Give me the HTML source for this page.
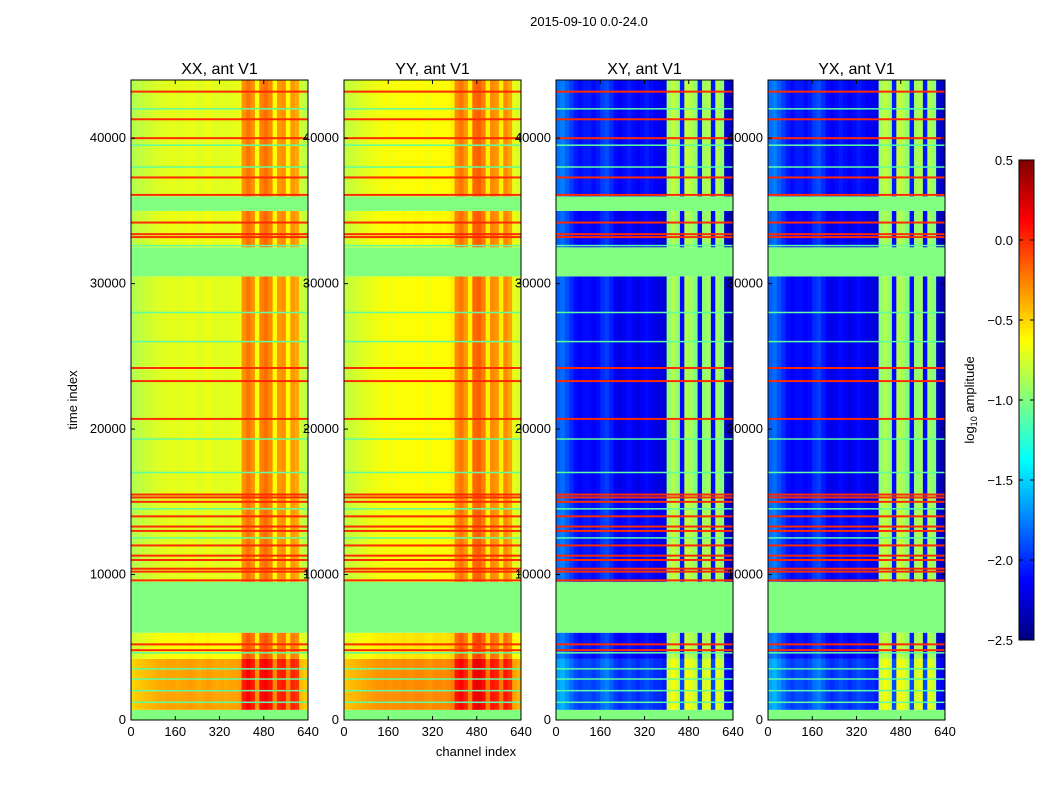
<!DOCTYPE html>
<html><head><meta charset="utf-8"><style>
body{margin:0;background:#fff;font-family:"Liberation Sans",sans-serif}
svg text{font-family:"Liberation Sans",sans-serif}
</style></head><body>
<svg id="c" width="1050" height="800" xmlns="http://www.w3.org/2000/svg">
<text x="589" y="26" font-size="13" text-anchor="middle">2015-09-10 0.0-24.0</text>
<text x="476" y="756" font-size="13" text-anchor="middle">channel index</text>
<text transform="translate(77,400) rotate(-90)" font-size="13" text-anchor="middle">time index</text>
<text transform="translate(974,400) rotate(-90)" font-size="13" text-anchor="middle">log<tspan font-size="9" dy="3">10</tspan><tspan dy="-3"> amplitude</tspan></text>
</svg>
<script>
// ---- data ----
const panelTitles = ["XX, ant V1","YY, ant V1","XY, ant V1","YX, ant V1"];
const xTicks = [0,160,320,480,640];
const yTicks = [0,10000,20000,30000,40000];
const cbTicks = [0.5,0.0,-0.5,-1.0,-1.5,-2.0,-2.5];
// channel bins of 16 channels (40 bins)
const xxCols = [-0.85,-0.82,-0.8,-0.78,-0.76,-0.74,-0.72,-0.72,-0.7,-0.7,-0.72,-0.7,-0.7,-0.68,-0.7,-0.72,-0.7,-0.68,-0.7,-0.72,-0.7,-0.72,-0.7,-0.7,-0.68,-0.3,-0.22,-0.3,-0.65,-0.25,-0.2,-0.28,-0.62,-0.32,-0.3,-0.62,-0.32,-0.38,-0.78,-0.82];
const yyCols = [-0.8,-0.78,-0.76,-0.74,-0.72,-0.7,-0.68,-0.66,-0.66,-0.64,-0.66,-0.64,-0.64,-0.62,-0.64,-0.64,-0.62,-0.62,-0.64,-0.66,-0.62,-0.62,-0.64,-0.62,-0.58,-0.28,-0.22,-0.32,-0.6,-0.18,-0.15,-0.25,-0.58,-0.28,-0.32,-0.58,-0.28,-0.36,-0.7,-0.74];
const xyCols = [-1.85,-1.8,-1.9,-2.0,-2.1,-2.15,-2.1,-2.1,-2.15,-2.1,-2.0,-1.95,-2.05,-2.15,-2.2,-2.15,-2.1,-2.15,-2.2,-2.15,-2.1,-2.15,-2.2,-2.2,-2.25,-0.95,-0.85,-0.95,-2.1,-0.85,-0.9,-1.0,-2.1,-0.95,-0.9,-2.1,-0.9,-1.0,-2.3,-2.35];
const yxCols = [-1.85,-1.8,-1.9,-2.0,-2.1,-2.15,-2.1,-2.1,-2.15,-2.1,-2.0,-1.95,-2.05,-2.15,-2.2,-2.15,-2.1,-2.15,-2.2,-2.15,-2.1,-2.15,-2.2,-2.2,-2.25,-0.95,-0.85,-0.95,-2.1,-0.85,-0.9,-1.0,-2.1,-0.95,-0.9,-2.1,-0.9,-1.0,-2.3,-2.35];
// time bands: start, end
const bandStart = [0,700,4200,6000,9500,15500,30500,32500,35000,36000];
const bandEnd   = [700,4200,6000,9500,15500,30500,32500,35000,36000,44000];
const bandFlag  = [1,0,0,1,0,0,1,0,1,0];
const parOffset = [0,0.35,0.08,0,0,0,0,0.02,0,0];
const crossOffset = [0,0.2,0.05,0,0.05,0,0,0,0,0.05];
const redLines = [4800,5200,9600,10200,10400,11000,11300,12000,13000,13300,14000,15000,15300,15500,20700,23300,24200,33200,33400,34200,36100,37300,40000,41300,43200];
const greenLines = [1200,2000,2800,3500,4600,12500,14500,17000,19300,26000,28000,32600,38000,39500,42000];
const lineValue = 0.0, flagValue = -1.0, greenValue = -1.1;

// ---- layout ----
const panelX = [131,344,556,768], pw = 177, plotTop = 80, plotBot = 720;
const ymax = 44000;
const sy = t => plotBot - t*(plotBot-plotTop)/ymax;
const NS = "http://www.w3.org/2000/svg";
const svg = document.getElementById('c');
function jet(v){ // v in -2.5..0.5
  let x = Math.max(0,Math.min(1,(v+2.5)/3));
  const f = (a)=>Math.max(0,Math.min(1,1.5-Math.abs(4*x-a)));
  return `rgb(${Math.round(f(3)*255)},${Math.round(f(2)*255)},${Math.round(f(1)*255)})`;
}
function mk(tag, attrs){const e=document.createElementNS(NS,tag);for(const k in attrs)e.setAttribute(k,attrs[k]);svg.appendChild(e);return e;}
const colsAll = [xxCols,yyCols,xyCols,yxCols];
panelTitles.forEach((title,p)=>{
  const x0 = panelX[p], cols = colsAll[p], sx = c => x0 + c*pw/640;
  const offs = p<2 ? parOffset : crossOffset;
  const g = document.createElementNS(NS,'g'); svg.appendChild(g);
  
  
  bandStart.forEach((s,b)=>{
    const y1 = sy(bandEnd[b]), y2 = sy(s);
    if(bandFlag[b]){
      const r=document.createElementNS(NS,'rect');
      r.setAttribute('x',sx(0));r.setAttribute('y',y1);r.setAttribute('width',pw);r.setAttribute('height',y2-y1);r.setAttribute('fill',jet(flagValue));
      
      
      g.appendChild(r); return;
    }
    cols.forEach((v,c)=>{
      const r=document.createElementNS(NS,'rect');
      r.setAttribute('x',sx(c*16));r.setAttribute('y',y1);r.setAttribute('width',sx((c+1)*16)-sx(c*16)+0.5);r.setAttribute('height',y2-y1);
      r.setAttribute('fill',jet(v+offs[b]));
      
      
      g.appendChild(r);
    });
  });
  greenLines.forEach(t=>{
    const r=document.createElementNS(NS,'rect');
    r.setAttribute('x',sx(0));r.setAttribute('y',sy(t)-1);r.setAttribute('width',pw);r.setAttribute('height',1.5);r.setAttribute('fill',jet(greenValue));
    
    
    g.appendChild(r);
  });
  redLines.forEach(t=>{
    const r=document.createElementNS(NS,'rect');
    r.setAttribute('x',sx(0));r.setAttribute('y',sy(t)-1);r.setAttribute('width',pw);r.setAttribute('height',2);r.setAttribute('fill',jet(lineValue));
    
    
    g.appendChild(r);
  });
  const fr = mk('rect',{x:x0,y:plotTop,width:pw,height:plotBot-plotTop,fill:'none',stroke:'#000','stroke-width':1});
  
  
  const tt = mk('text',{x:x0+pw/2,y:74,'font-size':16,'text-anchor':'middle'}); tt.textContent=title;
  
  
  xTicks.forEach(v=>{
    const x=sx(v);
    mk('line',{x1:x,x2:x,y1:plotBot,y2:plotBot-4,stroke:'#000'});
    mk('line',{x1:x,x2:x,y1:plotTop,y2:plotTop+4,stroke:'#000'});
    const t=mk('text',{x:x,y:plotBot+16,'font-size':13,'text-anchor':'middle'}); t.textContent=v;
    
    
  });
  yTicks.forEach(v=>{
    const y=sy(v);
    mk('line',{x1:x0,x2:x0+4,y1:y,y2:y,stroke:'#000'});
    mk('line',{x1:x0+pw,x2:x0+pw-4,y1:y,y2:y,stroke:'#000'});
    const t=mk('text',{x:x0-5,y:y+4,'font-size':13,'text-anchor':'end'}); t.textContent=v;
    
    
  });
});
// colorbar
const cbx=1019, cbw=15, cbt=160, cbb=640;
const cy = v => cbb - (v+2.5)/3*(cbb-cbt);
for(let i=0;i<120;i++){
  const v=-2.5+3*(i+0.5)/120;
  const r=mk('rect',{x:cbx,y:cy(-2.5+3*(i+1)/120),width:cbw,height:(cbb-cbt)/120+0.5,fill:jet(v)});
  
  
}
const cbf=mk('rect',{x:cbx,y:cbt,width:cbw,height:cbb-cbt,fill:'none',stroke:'#000'});


cbTicks.forEach(v=>{
  const y=cy(v);
  mk('line',{x1:cbx,x2:cbx+4,y1:y,y2:y,stroke:'#000'});
  mk('line',{x1:cbx+cbw,x2:cbx+cbw-4,y1:y,y2:y,stroke:'#000'});
  const t=mk('text',{x:cbx-6,y:y+5,'font-size':13,'text-anchor':'end'}); t.textContent=(v<0?'\u2212':'')+Math.abs(v).toFixed(1);
  
  
});
</script>
</body></html>
